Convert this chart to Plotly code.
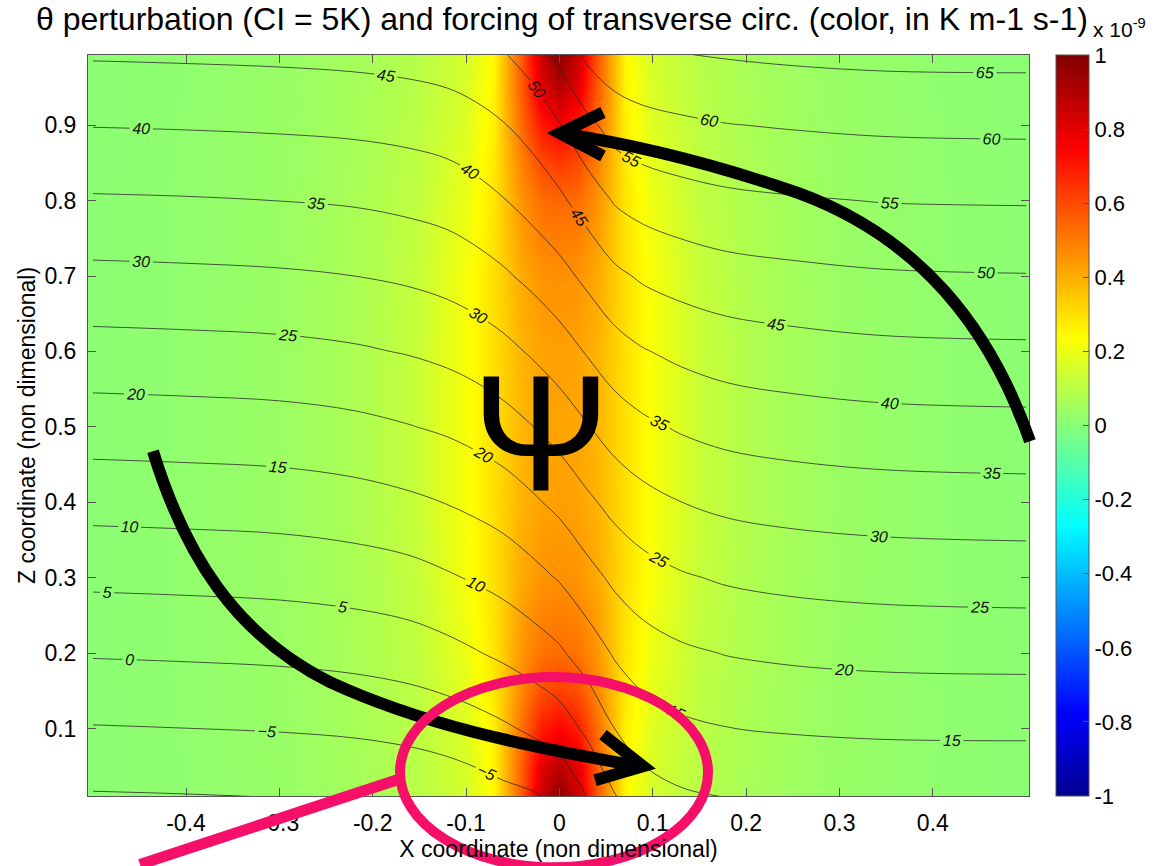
import numpy as np
import plotly.graph_objects as go

# ---------------- data ----------------
# Forcing of transverse circulation (units of 1e-9 K m-1 s-1), half cross-sections x >= 0
force_x_half = [0.0, 0.02, 0.04, 0.07, 0.10, 0.15, 0.20, 0.25, 0.30, 0.40, 0.52]
force_z = [0.0, 0.05, 0.1, 0.15, 0.2, 0.3, 0.4, 0.5, 0.6, 0.7, 0.8, 0.85, 0.9, 0.95, 1.0]
force_rows_half = [
    [1.00, 0.86, 0.58, 0.25, 0.150, 0.095, 0.065, 0.045, 0.033, 0.018, 0.006],
    [0.88, 0.79, 0.56, 0.26, 0.160, 0.100, 0.068, 0.048, 0.034, 0.018, 0.006],
    [0.74, 0.69, 0.53, 0.27, 0.170, 0.105, 0.070, 0.050, 0.035, 0.019, 0.006],
    [0.62, 0.59, 0.48, 0.28, 0.185, 0.110, 0.075, 0.052, 0.036, 0.019, 0.006],
    [0.53, 0.515, 0.45, 0.29, 0.200, 0.115, 0.078, 0.054, 0.037, 0.020, 0.006],
    [0.46, 0.45, 0.41, 0.30, 0.220, 0.125, 0.082, 0.056, 0.038, 0.020, 0.006],
    [0.43, 0.42, 0.39, 0.30, 0.225, 0.130, 0.085, 0.058, 0.039, 0.020, 0.006],
    [0.42, 0.415, 0.385, 0.30, 0.225, 0.130, 0.085, 0.058, 0.039, 0.020, 0.006],
    [0.43, 0.42, 0.39, 0.30, 0.225, 0.130, 0.085, 0.058, 0.039, 0.020, 0.006],
    [0.46, 0.45, 0.41, 0.30, 0.220, 0.125, 0.082, 0.056, 0.038, 0.020, 0.006],
    [0.54, 0.525, 0.455, 0.29, 0.200, 0.115, 0.078, 0.054, 0.037, 0.020, 0.006],
    [0.63, 0.60, 0.49, 0.28, 0.185, 0.110, 0.075, 0.052, 0.036, 0.019, 0.006],
    [0.76, 0.70, 0.54, 0.27, 0.170, 0.105, 0.070, 0.050, 0.035, 0.019, 0.006],
    [0.90, 0.80, 0.57, 0.26, 0.160, 0.100, 0.068, 0.048, 0.034, 0.018, 0.006],
    [1.00, 0.86, 0.58, 0.25, 0.150, 0.095, 0.065, 0.045, 0.033, 0.018, 0.006],
]

# Potential temperature perturbation (K): value along left edge + rise across the front
theta_x = [-0.5, -0.4, -0.3, -0.22, -0.16, -0.12, -0.09, -0.06, -0.03, 0.0,
           0.03, 0.06, 0.09, 0.13, 0.18, 0.25, 0.35, 0.5]
theta_z = [0.0, 0.1, 0.2, 0.3, 0.4, 0.5, 0.6, 0.7, 0.8, 0.9, 1.0]
theta_left_edge = [-10.96, -5.28, 0.40, 6.08, 11.76, 17.44, 23.12, 28.80, 34.48, 40.16, 45.84]
theta_rise = [
    [0, 0.20, 0.50, 0.90, 1.5, 2.2, 3.0, 4.0, 4.7, 6.2, 10.4, 15.2, 18.3, 19.8, 20.5, 20.9, 21.1, 21.2],
    [0, 0.25, 0.55, 1.00, 1.7, 2.5, 3.4, 4.6, 6.0, 7.8, 11.3, 15.4, 17.8, 19.3, 20.2, 20.7, 21.1, 21.2],
    [0, 0.25, 0.60, 1.20, 2.1, 3.2, 4.3, 5.5, 7.0, 8.9, 11.9, 15.2, 17.3, 18.8, 19.8, 20.5, 21.0, 21.2],
    [0, 0.25, 0.60, 1.30, 2.2, 3.4, 4.4, 5.6, 7.3, 9.3, 12.2, 15.0, 16.9, 18.4, 19.5, 20.3, 20.9, 21.2],
    [0, 0.25, 0.60, 1.35, 2.4, 3.4, 4.4, 5.6, 7.4, 9.5, 12.3, 14.9, 16.7, 18.2, 19.4, 20.2, 20.8, 21.1],
    [0, 0.25, 0.60, 1.35, 2.4, 3.3, 4.3, 5.6, 7.4, 9.6, 12.3, 14.9, 16.6, 18.1, 19.3, 20.1, 20.8, 21.1],
    [0, 0.25, 0.60, 1.30, 2.2, 3.1, 4.1, 5.5, 7.4, 9.6, 12.3, 14.9, 16.6, 18.0, 19.2, 20.0, 20.7, 21.0],
    [0, 0.25, 0.60, 1.20, 2.0, 2.9, 4.0, 5.5, 7.4, 9.6, 12.4, 15.2, 16.9, 18.2, 19.3, 20.0, 20.7, 21.0],
    [0, 0.20, 0.55, 1.00, 1.8, 2.6, 3.8, 5.3, 7.3, 9.6, 12.8, 16.0, 17.5, 18.6, 19.5, 20.1, 20.7, 20.9],
    [0, 0.20, 0.50, 0.90, 1.5, 2.2, 3.2, 4.6, 6.6, 9.6, 13.6, 16.9, 18.2, 19.0, 19.7, 20.2, 20.7, 20.9],
    [0, 0.20, 0.45, 0.80, 1.3, 1.9, 2.8, 4.2, 6.6, 10.9, 15.8, 17.9, 18.8, 19.4, 19.9, 20.4, 20.8, 20.9],
]
contour_step = 5          # CI = 5 K
# level range passed to plotly (only -10 ... 65 occur in the field; the wider
# range just lets plotly put ~3 labels on each line, as in the original)
contour_start, contour_end = -110, 165

x_ticks = [-0.4, -0.3, -0.2, -0.1, 0, 0.1, 0.2, 0.3, 0.4]
x_ticklabels = ["-0.4", "-0.3", "-0.2", "-0.1", "0", "0.1", "0.2", "0.3", "0.4"]
y_ticks = [0.1, 0.2, 0.3, 0.4, 0.5, 0.6, 0.7, 0.8, 0.9]
y_ticklabels = ["0.1", "0.2", "0.3", "0.4", "0.5", "0.6", "0.7", "0.8", "0.9"]
cb_ticks = [-1, -0.8, -0.6, -0.4, -0.2, 0, 0.2, 0.4, 0.6, 0.8, 1]
cb_ticklabels = ["-1", "-0.8", "-0.6", "-0.4", "-0.2", "0", "0.2", "0.4", "0.6", "0.8", "1"]

# ---------------- build tables ----------------
force_x = [-v for v in reversed(force_x_half[1:])] + force_x_half
force = [list(reversed(r[1:])) + r for r in force_rows_half]
theta = np.array(theta_left_edge)[:, None] + np.array(theta_rise)

jet = [[0.0, "rgb(0,0,143)"], [0.111, "rgb(0,0,255)"], [0.365, "rgb(0,255,255)"],
       [0.619, "rgb(255,255,0)"], [0.873, "rgb(255,0,0)"], [1.0, "rgb(128,0,0)"]]

# plot box in pixels
L, R, T, B = 88, 1029, 55, 803
W, H = 1168, 866


def px(x):
    return (x - L) / (R - L)


def py(y):
    return (B - y) / (B - T)


FONT = "Liberation Sans, Arial, sans-serif"

fig = go.Figure()
fig.add_trace(go.Heatmap(
    x=force_x, y=force_z, z=force, zmin=-1, zmax=1, zsmooth="best",
    colorscale=jet, hoverinfo="skip",
    colorbar=dict(
        x=px(1056), xanchor="left", xpad=0, ypad=0, y=0.5, yanchor="middle",
        len=1, lenmode="fraction",
        thickness=33, thicknessmode="pixels", outlinewidth=1, outlinecolor="#555",
        tickvals=cb_ticks, ticktext=cb_ticklabels, ticks="inside", ticklen=6,
        tickcolor="#555", tickfont=dict(family=FONT, size=22, color="black"),
    ),
))
fig.add_trace(go.Contour(
    x=theta_x, y=theta_z, z=theta, showscale=False, hoverinfo="skip",
    contours=dict(start=contour_start, end=contour_end, size=contour_step,
                  coloring="none", showlabels=True,
                  labelfont=dict(family=FONT, size=16, color="#111", style="italic")),
    line=dict(color="#2a2a2a", width=0.8, smoothing=1.0),
))

shapes = []
# upper arrow
shapes.append(dict(type="path", xref="paper", yref="paper", layer="above",
                   path=f"M {px(1030)},{py(445)} C {px(990)},{py(330)} {px(920)},{py(240)} {px(800)},{py(195)} "
                        f"C {px(700)},{py(160)} {px(620)},{py(143)} {px(560)},{py(134)}",
                   line=dict(color="black", width=12)))
shapes.append(dict(type="path", xref="paper", yref="paper", layer="above",
                   path=f"M {px(603)},{py(113)} L {px(560)},{py(134)} L {px(603)},{py(157)}",
                   line=dict(color="black", width=12)))
# lower arrow
shapes.append(dict(type="path", xref="paper", yref="paper", layer="above",
                   path=f"M {px(153)},{py(455)} C {px(185)},{py(560)} {px(235)},{py(640)} {px(330)},{py(688)} "
                        f"C {px(420)},{py(730)} {px(520)},{py(752)} {px(640)},{py(773)}",
                   line=dict(color="black", width=12)))
shapes.append(dict(type="path", xref="paper", yref="paper", layer="above",
                   path=f"M {px(603)},{py(741)} L {px(643)},{py(773)} L {px(595)},{py(787)}",
                   line=dict(color="black", width=12)))
# pink ellipse and pointer line
pink = "rgb(245,15,105)"
shapes.append(dict(type="circle", xref="paper", yref="paper", layer="above",
                   x0=px(400), x1=px(708), y0=py(875), y1=py(683),
                   line=dict(color=pink, width=10)))
shapes.append(dict(type="line", xref="paper", yref="paper", layer="above",
                   x0=px(140), y0=py(872), x1=px(402), y1=py(785),
                   line=dict(color=pink, width=11)))

annotations = [
    dict(text="\u03b8 perturbation (CI = 5K) and forcing of transverse circ. (color, in K m-1 s-1)",
         xref="paper", yref="paper", x=px(562), y=py(19), xanchor="center", yanchor="middle",
         showarrow=False, font=dict(family=FONT, size=32, color="black")),
    dict(text="x 10<sup>-9</sup>", xref="paper", yref="paper", x=px(1091), y=py(28),
         xanchor="left", yanchor="middle", showarrow=False,
         font=dict(family=FONT, size=21, color="black")),
    dict(text="\u03a8", xref="paper", yref="paper", x=px(541), y=py(437),
         xanchor="center", yanchor="middle", showarrow=False,
         font=dict(family=FONT, size=165, color="black")),
]

fig.update_layout(
    width=W, height=H, autosize=False,
    margin=dict(l=L, r=W - R, t=T, b=H - B, pad=0),
    paper_bgcolor="white", plot_bgcolor="white",
    showlegend=False, shapes=shapes, annotations=annotations,
    xaxis=dict(range=[-0.505, 0.503], tickvals=x_ticks, ticktext=x_ticklabels,
               ticks="inside", ticklen=8, tickcolor="#555", showline=True, linecolor="#555",
               linewidth=1, mirror="ticks", showgrid=False, zeroline=False,
               ticklabelstandoff=6,
               tickfont=dict(family=FONT, size=23, color="black"),
               title=dict(text="X coordinate (non dimensional)", standoff=2,
                          font=dict(family=FONT, size=23, color="black"))),
    yaxis=dict(range=[0.0106, 0.993], tickvals=y_ticks, ticktext=y_ticklabels,
               ticks="inside", ticklen=8, tickcolor="#555", showline=True, linecolor="#555",
               linewidth=1, mirror="ticks", showgrid=False, zeroline=False,
               ticklabelstandoff=6,
               tickfont=dict(family=FONT, size=23, color="black"),
               title=dict(text="Z coordinate (non dimensional)", standoff=2,
                          font=dict(family=FONT, size=23, color="black"))),
)

fig.write_html("out.html")
